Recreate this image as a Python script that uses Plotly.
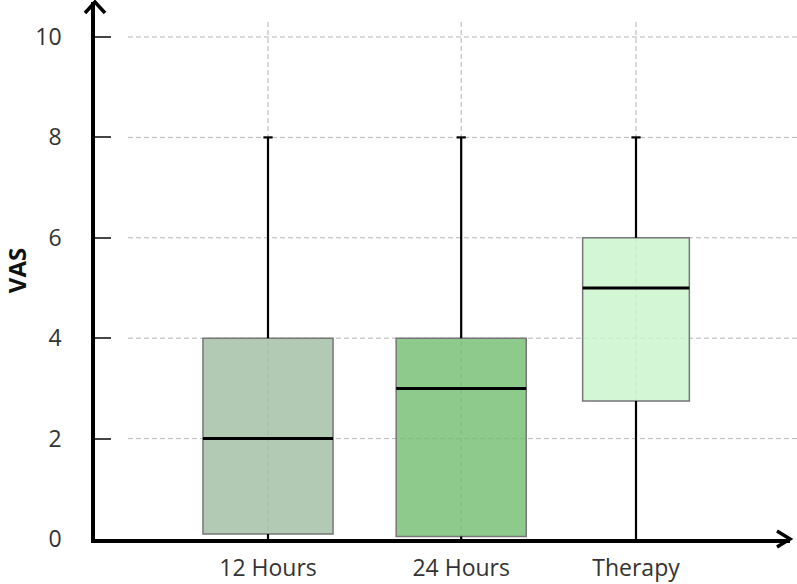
import plotly.graph_objects as go

# ---- data ----
categories = ["12 Hours", "24 Hours", "Therapy"]
lower_whisker = [0, 0, 0]
q1_values = [0.1, 0.05, 2.75]
median_values = [2, 3, 5]
q3_values = [4, 4, 6]
upper_whisker = [8, 8, 8]
y_ticks = [0, 2, 4, 6, 8, 10]

# ---- styling / layout ----
positions = [0, 1.05, 2]
box_widths = [0.707, 0.707, 0.58]
fills = ["rgba(159,189,161,0.8)", "rgba(114,189,111,0.8)", "rgba(200,244,201,0.8)"]
FONT = "Open Sans"
GRID = dict(color="#b5b5b5", width=1, dash="5px,3px")

W, H = 797, 584
ML, MR, MT, MB = 95, 7, 2, 45
PW, PH = W - ML - MR, H - MT - MB


def px_to_paper(px, py):
    return (px - ML) / PW, (H - MB - py) / PH


fig = go.Figure()

for i, cat in enumerate(categories):
    p = positions[i]
    w = box_widths[i]
    fig.add_trace(go.Box(
        x=[p], q1=[q1_values[i]], median=[median_values[i]], q3=[q3_values[i]],
        lowerfence=[lower_whisker[i]], upperfence=[upper_whisker[i]],
        width=w, fillcolor=fills[i], line=dict(color="#777777", width=1.5),
        whiskerwidth=0, boxpoints=False, name=cat, showlegend=False,
        hoverinfo="skip",
    ))
    cw = 0.025
    xs = [p, p, None, p, p, None, p - cw, p + cw]
    ys = [q3_values[i], upper_whisker[i], None,
          lower_whisker[i], q1_values[i], None,
          upper_whisker[i], upper_whisker[i]]
    fig.add_trace(go.Scatter(
        x=xs, y=ys, mode="lines", line=dict(color="black", width=2.2),
        showlegend=False, hoverinfo="skip",
    ))
    fig.add_trace(go.Scatter(
        x=[p - w / 2, p + w / 2], y=[median_values[i], median_values[i]],
        mode="lines", line=dict(color="black", width=3),
        showlegend=False, hoverinfo="skip",
    ))

shapes = []
gx0, _ = px_to_paper(128, 0)
gx1, _ = px_to_paper(797, 0)
for v in y_ticks[1:]:
    shapes.append(dict(type="line", xref="paper", yref="y", x0=gx0, x1=gx1, y0=v, y1=v,
                       line=GRID, layer="below"))
_, gy_top = px_to_paper(0, 20)
for p in positions:
    shapes.append(dict(type="line", xref="x", yref="paper", x0=p, x1=p, y0=0, y1=gy_top,
                       line=GRID, layer="below"))

# arrowheads
ax1, ay1 = px_to_paper(85, 13)
ax2, ay2 = px_to_paper(95, 2)
ax3, ay3 = px_to_paper(105, 13)
shapes.append(dict(type="path", xref="paper", yref="paper",
                   path=f"M {ax1} {ay1} L {ax2} {ay2} L {ax3} {ay3}",
                   line=dict(color="black", width=3.5)))
bx1, by1 = px_to_paper(777, 531)
bx2, by2 = px_to_paper(790, 539)
bx3, by3 = px_to_paper(777, 547)
shapes.append(dict(type="path", xref="paper", yref="paper",
                   path=f"M {bx1} {by1} L {bx2} {by2} L {bx3} {by3}",
                   line=dict(color="black", width=3.5)))

x_lo = -(268 - ML) / 184
x_hi = 2 + (ML + PW - 636) / 184

fig.update_layout(
    width=W, height=H,
    margin=dict(l=ML, r=MR, t=MT, b=MB, pad=0, autoexpand=False),
    paper_bgcolor="white", plot_bgcolor="white",
    boxmode="overlay",
    shapes=shapes,
    font=dict(family=FONT, size=23, color="#333333"),
    xaxis=dict(
        range=[x_lo, x_hi], tickvals=positions, ticktext=categories,
        showgrid=False, zeroline=False, showline=True, linecolor="black", linewidth=3.5,
        ticks="", ticklabelstandoff=6, tickfont=dict(family=FONT, size=23, color="#333333"),
        fixedrange=True, automargin=False,
    ),
    yaxis=dict(
        range=[0, PH / 50.2], tickvals=y_ticks,
        showgrid=False, zeroline=False, showline=True, linecolor="black", linewidth=3.5,
        ticks="inside", ticklen=16, tickwidth=2, tickcolor="#444444",
        ticklabelstandoff=25, tickfont=dict(family=FONT, size=23, color="#333333"),
        title=dict(text="<b>VAS</b>", font=dict(family=FONT, size=24, color="#111111"), standoff=27),
        fixedrange=True, automargin=False,
    ),
)

fig.write_html("out.html")
